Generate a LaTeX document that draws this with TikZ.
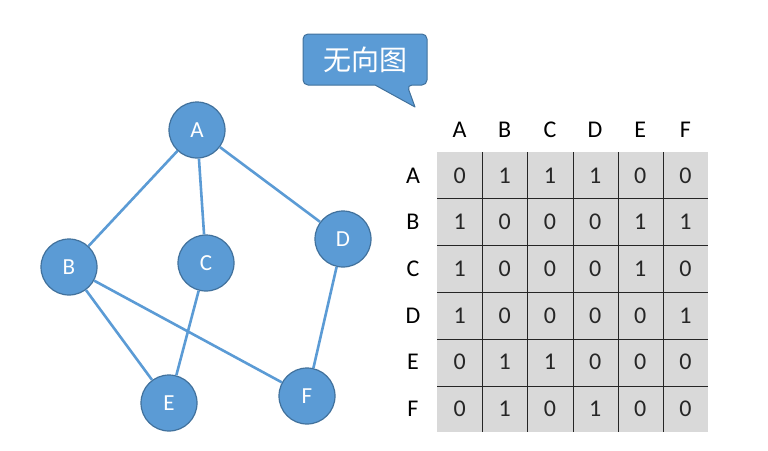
\documentclass[tikz,border=0pt]{standalone}
\usepackage{fontspec}
\setmainfont{Carlito}
\newfontfamily\cjk{Noto Sans CJK SC}
\usetikzlibrary{positioning}
\definecolor{vfill}{HTML}{5B9BD5}
\definecolor{vline}{HTML}{41719C}
\definecolor{cellgray}{HTML}{D9D9D9}
\tikzset{
    vertex/.style={
        circle, fill=vfill, draw=vline, line width=1.2pt,
        minimum size=56pt, inner sep=0pt,
        text=white, font=\fontsize{23}{23}\selectfont
    },
    link/.style={vfill, line width=2.6pt},
    gridline/.style={black!85, line width=1.4pt},
    head/.style={font=\fontsize{24}{24}\selectfont, text=black},
    entry/.style={font=\fontsize{24}{24}\selectfont, text=black!85}
}

\begin{document}
\begin{tikzpicture}[
        x=1pt, y=-1pt, line join=round,
        tagbox/.style={fill=vfill, draw=vline, line width=1pt},
        tagtext/.style={text=white, font=\cjk\fontsize{28}{28}\selectfont}
    ]
    \useasboundingbox (0,0) rectangle (768,450);
    \node[vertex] (A) at (197,130) {A};
    \node[vertex] (B) at (69,267) {B};
    \node[vertex] (C) at (206,263) {C};
    \node[vertex] (D) at (343,239) {D};
    \node[vertex] (E) at (169,403) {E};
    \node[vertex] (F) at (307,396) {F};
    \draw[link] (A) -- (B);
    \draw[link] (A) -- (C);
    \draw[link] (A) -- (D);
    \draw[link] (B) -- (E);
    \draw[link] (B) -- (F);
    \draw[link] (C) -- (E);
    \draw[link] (D) -- (F);
    \draw[tagbox] (407,85) -- (415,107) -- (375,85) [rounded corners=5pt]
        -| (303,34) -| (427,85) -- cycle;
    \node[tagtext] (tag) at (365,60) {无向图};
    \fill[cellgray] (437,152) rectangle (708,432);
    \foreach \xx in {482.5,527.5,573.5,618.5,663.5}
        \draw[gridline] (\xx,152) -- (\xx,432);
    \foreach \yy in {198.5,245.5,292.5,339.5,386.5}
        \draw[gridline] (437,\yy) -- (708,\yy);
    \foreach \name [count=\i] in {A,B,C,D,E,F} {
        \node[head] (col-\name) at ({437+45.17*(\i-0.5)},130) {\name};
        \node[head] (row-\name) at (413,{152+46.67*(\i-0.5)}) {\name};
    }
    \foreach \name/\vals [count=\i] in {
            A/{0,1,1,1,0,0}, B/{1,0,0,0,1,1}, C/{1,0,0,0,1,0},
            D/{1,0,0,0,0,1}, E/{0,1,1,0,0,0}, F/{0,1,0,1,0,0}} {
        \foreach \v [count=\j] in \vals
            \node[entry] (cell-\i-\j) at ({437+45.17*(\j-0.5)},{152+46.67*(\i-0.5)}) {\v};
    }
\end{tikzpicture}
\end{document}
